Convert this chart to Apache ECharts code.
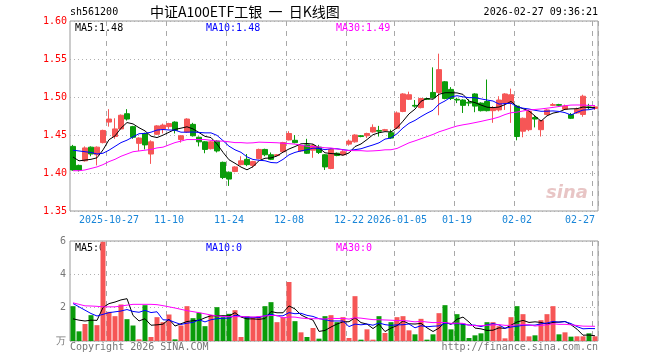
<!DOCTYPE html>
<html><head><meta charset="utf-8">
<script src="https://cdn.jsdelivr.net/npm/echarts@6/dist/echarts.min.js"></script>
<style>html,body{margin:0;padding:0;background:#fff}#c{width:660px;height:360px}</style>
</head><body><div id="c"></div>
<script>
const dates = [
'2025-10-17','2025-10-20','2025-10-21','2025-10-22','2025-10-23','2025-10-24','2025-10-27','2025-10-28','2025-10-29','2025-10-30','2025-10-31',
'2025-11-03','2025-11-04','2025-11-05','2025-11-06','2025-11-07','2025-11-10','2025-11-11','2025-11-12','2025-11-13','2025-11-14',
'2025-11-17','2025-11-18','2025-11-19','2025-11-20','2025-11-21','2025-11-24','2025-11-25','2025-11-26','2025-11-27','2025-11-28',
'2025-12-01','2025-12-02','2025-12-03','2025-12-04','2025-12-05','2025-12-08','2025-12-09','2025-12-10','2025-12-11','2025-12-12',
'2025-12-15','2025-12-16','2025-12-17','2025-12-18','2025-12-19','2025-12-22','2025-12-23','2025-12-24','2025-12-25','2025-12-26',
'2025-12-29','2025-12-30','2025-12-31','2026-01-05','2026-01-06','2026-01-07','2026-01-08','2026-01-09',
'2026-01-12','2026-01-13','2026-01-14','2026-01-15','2026-01-16','2026-01-19','2026-01-20','2026-01-21','2026-01-22','2026-01-23',
'2026-01-26','2026-01-27','2026-01-28','2026-01-29','2026-01-30','2026-02-02','2026-02-03','2026-02-04','2026-02-05','2026-02-06',
'2026-02-09','2026-02-10','2026-02-11','2026-02-12','2026-02-13','2026-02-24','2026-02-25','2026-02-26','2026-02-27'
];
const openP = [1.435,1.410,1.416,1.434,1.424,1.440,1.467,1.448,1.458,1.478,1.461,1.439,1.452,1.425,1.451,1.458,1.461,1.467,1.444,1.454,
1.464,1.447,1.441,1.432,1.442,1.414,1.401,1.402,1.411,1.418,1.410,1.419,1.431,1.424,1.423,1.428,1.4435,1.443,1.429,1.437,
1.430,1.434,1.424,1.406,1.426,1.424,1.438,1.441,1.449,1.449,1.454,1.456,1.456,1.453,1.459,1.481,1.497,1.489,1.486,1.498,
1.506,1.506,1.520,1.510,1.497,1.496,1.493,1.504,1.492,1.494,1.482,1.483,1.492,1.492,1.488,1.455,1.457,1.473,1.457,1.477,
1.489,1.490,1.484,1.477,1.479,1.477,1.487,1.485];
const closeP = [1.404,1.404,1.433,1.425,1.434,1.456,1.471,1.458,1.476,1.471,1.447,1.446,1.437,1.441,1.462,1.463,1.465,1.456,1.449,1.471,
1.449,1.441,1.431,1.441,1.429,1.394,1.392,1.408,1.416,1.411,1.415,1.431,1.424,1.418,1.424,1.440,1.452,1.440,1.436,1.426,
1.436,1.427,1.408,1.431,1.423,1.428,1.442,1.450,1.448,1.452,1.460,1.455,1.457,1.446,1.479,1.504,1.503,1.488,1.498,1.497,
1.499,1.536,1.498,1.498,1.496,1.489,1.492,1.488,1.482,1.482,1.486,1.496,1.504,1.503,1.448,1.472,1.481,1.471,1.469,1.483,
1.490,1.489,1.488,1.472,1.484,1.501,1.486,1.487];
const lowP = [1.403,1.402,1.415,1.422,1.410,1.439,1.461,1.445,1.457,1.469,1.445,1.429,1.431,1.412,1.450,1.452,1.458,1.452,1.440,1.453,
1.448,1.435,1.426,1.431,1.427,1.392,1.383,1.401,1.410,1.409,1.407,1.418,1.422,1.417,1.422,1.427,1.443,1.439,1.428,1.425,
1.420,1.425,1.404,1.405,1.422,1.423,1.436,1.440,1.447,1.446,1.453,1.448,1.455,1.445,1.458,1.480,1.496,1.486,1.485,1.496,
1.498,1.476,1.497,1.496,1.492,1.479,1.488,1.480,1.481,1.481,1.466,1.481,1.483,1.466,1.443,1.447,1.455,1.460,1.448,1.476,
1.488,1.487,1.483,1.471,1.478,1.474,1.484,1.483];
const highP = [1.437,1.411,1.435,1.435,1.435,1.457,1.484,1.472,1.477,1.484,1.462,1.447,1.453,1.443,1.463,1.465,1.466,1.468,1.450,1.472,
1.466,1.448,1.442,1.442,1.443,1.415,1.402,1.409,1.422,1.425,1.416,1.432,1.432,1.427,1.425,1.441,1.455,1.450,1.437,1.445,
1.438,1.437,1.425,1.432,1.427,1.430,1.444,1.451,1.450,1.453,1.464,1.462,1.458,1.457,1.481,1.505,1.507,1.496,1.499,1.499,
1.539,1.557,1.521,1.513,1.499,1.497,1.497,1.505,1.493,1.523,1.488,1.501,1.505,1.511,1.489,1.473,1.483,1.475,1.470,1.484,
1.492,1.491,1.490,1.479,1.486,1.503,1.491,1.489];
const volume = [2.09,0.58,1.02,1.55,0.95,5.95,1.75,1.49,2.19,1.31,0.93,0.10,2.15,0.24,1.43,1.13,1.59,0.10,0.93,2.09,
1.37,1.69,0.89,1.55,2.03,1.43,1.63,1.85,0.24,1.49,1.43,1.49,2.09,2.33,1.13,1.43,3.54,1.19,0.52,0.24,
0.78,0.14,1.49,1.55,1.13,1.43,0.18,2.69,0.08,0.70,0.08,1.49,0.48,1.13,1.43,1.49,0.64,0.40,1.33,0.08,
0.40,1.67,2.15,0.70,1.61,1.05,0.18,0.34,0.46,1.13,1.13,0.89,0.16,1.43,2.09,1.61,0.28,0.34,1.25,1.61,
2.09,0.40,0.52,0.26,0.28,0.28,0.46,0.28];
const ma5Head = [1.421,1.416,1.417,1.418];
const ma10Head = [1.430,1.429,1.428,1.427,1.425,1.426,1.430,1.435,1.440];
const ma30Head = [1.403,1.403,1.404,1.406,1.408,1.411,1.415,1.418,1.422,1.425,1.428,1.429,1.430,1.431,1.433,1.434,1.437,1.440,1.442,1.444,
1.444,1.444,1.444,1.443,1.442,1.442,1.441,1.440,1.440];
const volMa5Head = [1.33,1.25,1.20,1.25];
const volMa10Head = [2.25,2.05,1.85,1.65,1.50,1.60,1.70,1.75,1.80];
const volMa30Head = [2.29,2.20,2.11,2.10,2.08,2.05,2.05,2.05,2.10,2.15,2.20,2.20,2.20,2.20,2.18,2.12,2.05,1.98,1.90,1.82,
1.76,1.70,1.63,1.56,1.50,1.47,1.46,1.46,1.46];
const tickIdx = [6,16,26,36,46,54,64,74,87];
const tickText = ['2025-10-27','11-10','11-24','12-08','12-22','2026-01-05','01-19','02-02','02-27'];
const legendPrice = ['MA5:1.48','MA10:1.48','MA30:1.49'];
const legendVol = ['MA5:0','MA10:0','MA30:0'];

function movingAvg(vals, n, head){
  return vals.map((v,i)=>{
    if(i < n-1) return head[i];
    let s=0; for(let k=i-n+1;k<=i;k++) s+=vals[k];
    return +(s/n).toFixed(4);
  });
}
const UP='#f65656', DOWN='#0a9c0a';
const mono='"DejaVu Sans Mono", monospace';
const candles = dates.map((d,i)=>[openP[i],closeP[i],lowP[i],highP[i]]);
const volData = volume.map((v,i)=>({value:v,itemStyle:{color: closeP[i]>=openP[i]?UP:DOWN}}));
const isTick = (i)=>tickIdx.indexOf(i)>=0;
const dashLine = {show:true, interval:(i)=>isTick(i), lineStyle:{color:'#a8a8a8',type:[5,5],width:1}};
const dotLine = {show:true, lineStyle:{color:'#b0b0b0',type:[1,3],width:1}};

const chart = echarts.init(document.getElementById('c'),null,{renderer:'canvas'});
chart.setOption({
  animation:false,
  backgroundColor:'#fff',
  grid:[
    {left:70, top:21, width:528, height:190, show:true, borderColor:'#999', borderWidth:1, backgroundColor:'transparent'},
    {left:70, top:241, width:528, height:100, show:true, borderColor:'#999', borderWidth:1, backgroundColor:'transparent'}
  ],
  xAxis:[
    {type:'category', gridIndex:0, data:dates, boundaryGap:true,
     axisLine:{show:false}, axisTick:{show:false},
     axisLabel:{interval:(i)=>isTick(i), formatter:(v,i)=>tickText[tickIdx.indexOf(i)]||'', color:'#1a86d8',
       fontFamily:mono, fontSize:10, margin:4, alignMaxLabel:'right'},
     splitLine:dashLine},
    {type:'category', gridIndex:1, data:dates, boundaryGap:true,
     axisLine:{show:false}, axisTick:{show:false}, axisLabel:{show:false},
     splitLine:dashLine}
  ],
  yAxis:[
    {type:'value', gridIndex:0, min:1.35, max:1.60, interval:0.05,
     axisLine:{show:false}, axisTick:{show:false},
     axisLabel:{color:'#ff0000', fontFamily:mono, fontSize:10, margin:3, formatter:(v)=>v.toFixed(2)},
     splitLine:dotLine},
    {type:'value', gridIndex:1, min:0, max:6, interval:2,
     axisLine:{show:false}, axisTick:{show:false},
     axisLabel:{color:'#777', fontFamily:mono, fontSize:10, margin:4, formatter:(v)=>v===0?'万':String(v)},
     splitLine:dotLine}
  ],
  series:[
    {type:'candlestick', xAxisIndex:0, yAxisIndex:0, data:candles, barWidth:5,
     itemStyle:{color:UP, color0:DOWN, borderColor:UP, borderColor0:DOWN, borderWidth:1}},
    {type:'line', xAxisIndex:0, yAxisIndex:0, data:movingAvg(closeP,5,ma5Head), symbol:'none', lineStyle:{color:'#000',width:1}},
    {type:'line', xAxisIndex:0, yAxisIndex:0, data:movingAvg(closeP,10,ma10Head), symbol:'none', lineStyle:{color:'#0000ff',width:1}},
    {type:'line', xAxisIndex:0, yAxisIndex:0, data:movingAvg(closeP,30,ma30Head), symbol:'none', lineStyle:{color:'#ff00ff',width:1}},
    {type:'bar', xAxisIndex:1, yAxisIndex:1, data:volData, barWidth:5},
    {type:'line', xAxisIndex:1, yAxisIndex:1, data:movingAvg(volume,5,volMa5Head), symbol:'none', lineStyle:{color:'#000',width:1}},
    {type:'line', xAxisIndex:1, yAxisIndex:1, data:movingAvg(volume,10,volMa10Head), symbol:'none', lineStyle:{color:'#0000ff',width:1}},
    {type:'line', xAxisIndex:1, yAxisIndex:1, data:movingAvg(volume,30,volMa30Head), symbol:'none', lineStyle:{color:'#ff00ff',width:1}}
  ],
  graphic:[
    {type:'text', left:70, top:7, style:{text:'sh561200', font:'10px '+mono, fill:'#000'}},
    {type:'text', left:150, top:5, style:{text:'中证A100ETF工银  一  日K线图', font:'14px "Noto Sans CJK SC", sans-serif', fill:'#000'}},
    {type:'text', right:62, top:7, style:{text:'2026-02-27 09:36:21', font:'10px '+mono, fill:'#000'}},
    {type:'text', left:75, top:23, style:{text:legendPrice[0], font:'10px '+mono, fill:'#000'}},
    {type:'text', left:206, top:23, style:{text:legendPrice[1], font:'10px '+mono, fill:'#0000ff'}},
    {type:'text', left:336, top:23, style:{text:legendPrice[2], font:'10px '+mono, fill:'#ff00ff'}},
    {type:'text', left:75, top:243, style:{text:legendVol[0], font:'10px '+mono, fill:'#000'}},
    {type:'text', left:206, top:243, style:{text:legendVol[1], font:'10px '+mono, fill:'#0000ff'}},
    {type:'text', left:336, top:243, style:{text:legendVol[2], font:'10px '+mono, fill:'#ff00ff'}},
    {type:'text', left:70, top:342, style:{text:'Copyright 2026 SINA.COM', font:'10px '+mono, fill:'#777'}},
    {type:'text', right:62, top:342, style:{text:'http://finance.sina.com.cn', font:'10px '+mono, fill:'#777'}},
    {type:'text', left:546, top:184, style:{text:'sina', font:'italic bold 18px "DejaVu Sans", sans-serif', fill:'rgba(190,90,90,0.35)'}}
  ]
});
</script></body></html>
